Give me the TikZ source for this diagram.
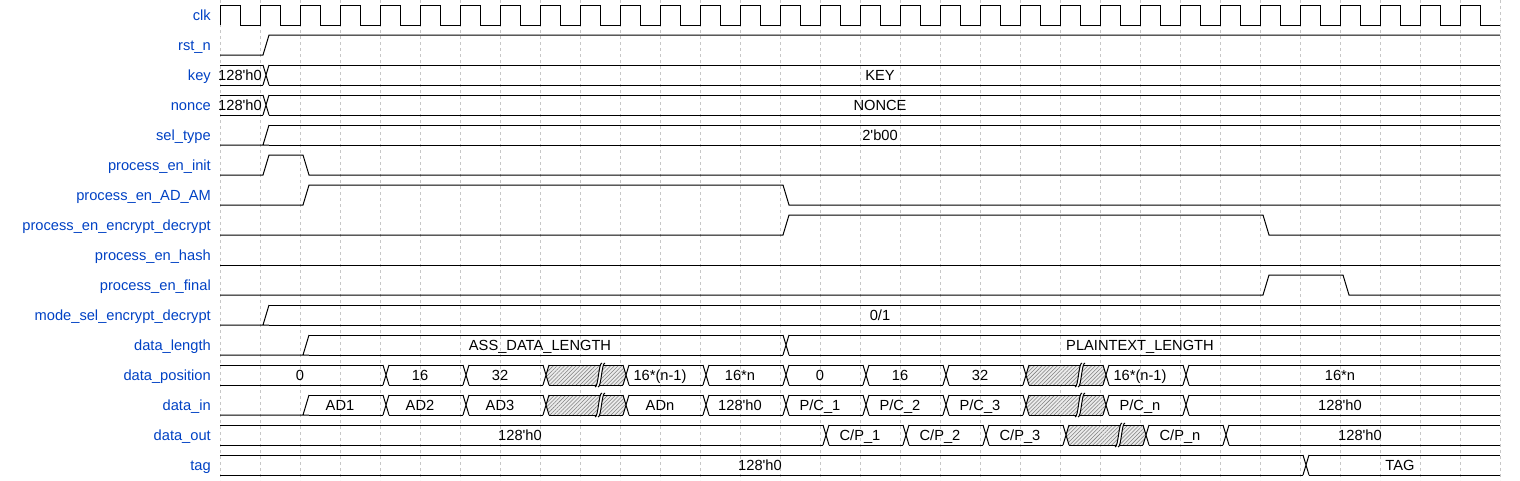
\documentclass[tikz,border=0pt]{standalone}
\usepackage{fontspec}
\setmainfont{Liberation Sans}
\usetikzlibrary{patterns, patterns.meta}

\definecolor{sigblue}{HTML}{0041C4}
\newcommand{\wavefont}{\fontsize{14.67}{17}\selectfont}
\newcommand{\zeroval}{128\textquotesingle h0}

% bus value between two cycles: row, from, to, text
\newcommand{\busval}[4]{%
  \pgfmathsetmacro{\wvL}{#2==0 ? 220 : 229+40*#2}%
  \pgfmathsetmacro{\wvR}{#3==32 ? 1500 : 223+40*#3}%
  \pgfmathsetmacro{\wvT}{5+30*#1}%
  \pgfmathsetmacro{\wvB}{25+30*#1}%
  \draw[wave] (\wvL,\wvT) -- (\wvR,\wvT) (\wvL,\wvB) -- (\wvR,\wvB);
  \node[valtext] (v#1-#2) at ({220+20*(#2+#3)},{20.3+30*#1}) {#4};}
% bus crossing: row, cycle
\newcommand{\busx}[2]{%
  \pgfmathsetmacro{\wvT}{5+30*#1}%
  \pgfmathsetmacro{\wvB}{25+30*#1}%
  \draw[wave] ({223+40*#2},\wvT) -- ({229+40*#2},\wvB)
              ({223+40*#2},\wvB) -- ({229+40*#2},\wvT);}
% from low into a bus value: row, cycle
\newcommand{\busup}[2]{%
  \pgfmathsetmacro{\wvT}{5+30*#1}%
  \pgfmathsetmacro{\wvB}{25+30*#1}%
  \draw[wave] (220,\wvB) -- ({229+40*#2},\wvB)
              ({223+40*#2},\wvB) -- ({229+40*#2},\wvT);}
% hatched value with a gap: row, from, to
\newcommand{\bushatch}[3]{%
  \pgfmathsetmacro{\wvT}{5+30*#1}%
  \pgfmathsetmacro{\wvM}{15+30*#1}%
  \pgfmathsetmacro{\wvB}{25+30*#1}%
  \pgfmathsetmacro{\wvC}{200+40*#3}%
  \fill[black!8] ({226+40*#2},\wvM) -- ({229+40*#2},\wvT) -- ({223+40*#3},\wvT)
    -- ({226+40*#3},\wvM) -- ({223+40*#3},\wvB) -- ({229+40*#2},\wvB) -- cycle;
  \fill[hatch] ({226+40*#2},\wvM) -- ({229+40*#2},\wvT) -- ({223+40*#3},\wvT)
    -- ({226+40*#3},\wvM) -- ({223+40*#3},\wvB) -- ({229+40*#2},\wvB) -- cycle;
  \draw[wave] ({229+40*#2},\wvT) -- ({223+40*#3},\wvT)
              ({229+40*#2},\wvB) -- ({223+40*#3},\wvB);
  \fill[white] ({\wvC-5},{\wvB+2}) .. controls ({\wvC-1.5},{\wvB+2}) and ({\wvC-1.5},{\wvT-2}) .. ({\wvC+2},{\wvT-2})
    -- ({\wvC+5},{\wvT-2}) .. controls ({\wvC+1.5},{\wvT-2}) and ({\wvC+1.5},{\wvB+2}) .. ({\wvC-2},{\wvB+2}) -- cycle;
  \draw[wave] ({\wvC-5},{\wvB+2}) .. controls ({\wvC-1.5},{\wvB+2}) and ({\wvC-1.5},{\wvT-2}) .. ({\wvC+2},{\wvT-2});
  \draw[wave] ({\wvC-2},{\wvB+2}) .. controls ({\wvC+1.5},{\wvB+2}) and ({\wvC+1.5},{\wvT-2}) .. ({\wvC+5},{\wvT-2});}

\begin{document}
\begin{tikzpicture}[x=1pt, y=-1pt,
    wave/.style={draw=black, line width=1pt},
    gridline/.style={black!22, line width=0.6pt, dash pattern=on 3pt off 3pt},
    siglabel/.style={anchor=base east, inner sep=0pt, text=sigblue, font=\wavefont},
    valtext/.style={anchor=base, inner sep=0pt, font=\wavefont},
    hatch/.style={pattern={Lines[angle=45, distance=2.7pt, line width=0.55pt]}, pattern color=black!50}]
    \useasboundingbox (0,0) rectangle (1520,480);

    % grid
    \foreach \k in {0,...,32}
        \draw[gridline] ({220+40*\k},0) -- ({220+40*\k},480);

    % signal names
    \foreach \lbl [count=\r from 0] in {clk, rst\_n, key, nonce, sel\_type, process\_en\_init,
        process\_en\_AD\_AM, process\_en\_encrypt\_decrypt, process\_en\_hash, process\_en\_final,
        mode\_sel\_encrypt\_decrypt, data\_length, data\_position, data\_in, data\_out, tag}
        \node[siglabel] (lbl-\r) at (211,{20.3+30*\r}) {\lbl};

    % clk
    \draw[wave] (220,25) \foreach \k in {1,...,32} { -- ++(0,-20) -- ++(20,0) -- ++(0,20) -- ++(20,0) };

    % single bit signals
    \draw[wave] (220,55) -- (263,55) -- (269,35) -- (1500,35);
    \draw[wave] (220,175) -- (263,175) -- (269,155) -- (303,155) -- (309,175) -- (1500,175);
    \draw[wave] (220,205) -- (303,205) -- (309,185) -- (783,185) -- (789,205) -- (1500,205);
    \draw[wave] (220,235) -- (783,235) -- (789,215) -- (1263,215) -- (1269,235) -- (1500,235);
    \draw[wave] (220,265) -- (1500,265);
    \draw[wave] (220,295) -- (1263,295) -- (1269,275) -- (1343,275) -- (1349,295) -- (1500,295);

    % key, nonce
    \busval{2}{0}{1}{\zeroval} \busx{2}{1} \busval{2}{1}{32}{KEY}
    \busval{3}{0}{1}{\zeroval} \busx{3}{1} \busval{3}{1}{32}{NONCE}

    % sel_type, mode_sel_encrypt_decrypt
    \busup{4}{1} \busval{4}{1}{32}{2\textquotesingle b00}
    \busup{10}{1} \busval{10}{1}{32}{0/1}

    % data_length
    \busup{11}{2} \busval{11}{2}{14}{ASS\_DATA\_LENGTH}
    \busx{11}{14} \busval{11}{14}{32}{PLAINTEXT\_LENGTH}

    % data_position
    \bushatch{12}{8}{10} \bushatch{12}{20}{22}
    \foreach \k in {4,6,...,24} {\busx{12}{\k}}
    \busval{12}{0}{4}{0} \busval{12}{4}{6}{16} \busval{12}{6}{8}{32}
    \busval{12}{10}{12}{16*(n-1)} \busval{12}{12}{14}{16*n}
    \busval{12}{14}{16}{0} \busval{12}{16}{18}{16} \busval{12}{18}{20}{32}
    \busval{12}{22}{24}{16*(n-1)} \busval{12}{24}{32}{16*n}

    % data_in
    \busup{13}{2}
    \bushatch{13}{8}{10} \bushatch{13}{20}{22}
    \foreach \k in {4,6,...,24} {\busx{13}{\k}}
    \busval{13}{2}{4}{AD1} \busval{13}{4}{6}{AD2} \busval{13}{6}{8}{AD3}
    \busval{13}{10}{12}{ADn} \busval{13}{12}{14}{\zeroval}
    \busval{13}{14}{16}{P/C\_1} \busval{13}{16}{18}{P/C\_2} \busval{13}{18}{20}{P/C\_3}
    \busval{13}{22}{24}{P/C\_n} \busval{13}{24}{32}{\zeroval}

    % data_out
    \bushatch{14}{21}{23}
    \foreach \k in {15,17,...,25} {\busx{14}{\k}}
    \busval{14}{0}{15}{\zeroval}
    \busval{14}{15}{17}{C/P\_1} \busval{14}{17}{19}{C/P\_2} \busval{14}{19}{21}{C/P\_3}
    \busval{14}{23}{25}{C/P\_n} \busval{14}{25}{32}{\zeroval}

    % tag
    \busval{15}{0}{27}{\zeroval} \busx{15}{27} \busval{15}{27}{32}{TAG}
\end{tikzpicture}
\end{document}
